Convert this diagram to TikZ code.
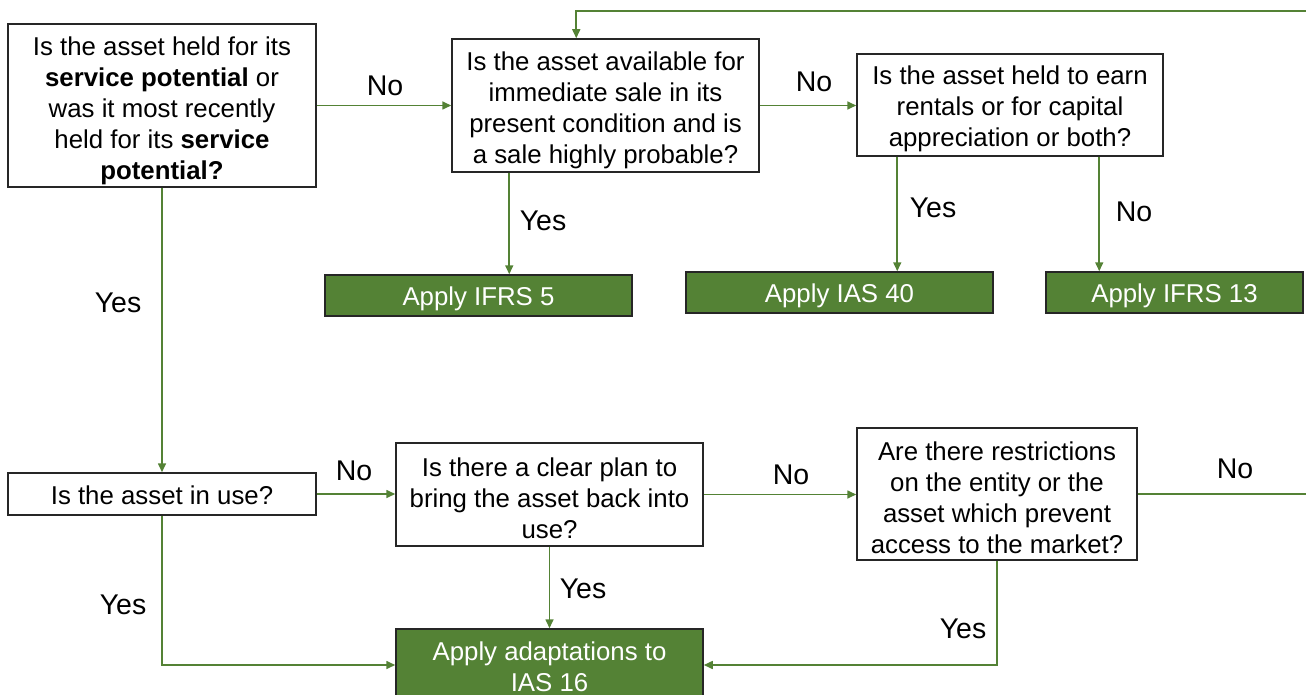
\documentclass[tikz,border=0pt]{standalone}
\usepackage{fontspec}
\setmainfont{Liberation Sans}
\usetikzlibrary{arrows.meta}
\definecolor{lgreen}{HTML}{548235}
\definecolor{bgreen}{HTML}{548235}
\definecolor{edge}{HTML}{262626}
\tikzset{
  qbox/.style={draw=edge, line width=1.5pt, fill=white, inner sep=0pt},
  gbox/.style={draw=edge, line width=1.5pt, fill=bgreen, inner sep=0pt},
  qtext/.style={inner sep=0pt, align=center, font=\fontsize{25.8}{31}\selectfont, text=black},
  gtext/.style={inner sep=0pt, align=center, font=\fontsize{25.8}{31}\selectfont, text=white},
  conn/.style={draw=lgreen, line width=1.6pt, -{Triangle[length=9pt,width=8pt]}},
  plain/.style={draw=lgreen, line width=1.6pt},
  lbl/.style={font=\fontsize{28.5}{32}\selectfont, inner sep=0pt, text=black}
}
\begin{document}
\begin{tikzpicture}[x=1pt,y=-1pt]
\useasboundingbox (0,0) rectangle (1306,695);
% question boxes
\node[qbox, minimum width=308pt, minimum height=163pt] (A) at (162,105.5) {};
\node[qbox, minimum width=307pt, minimum height=133pt] (B) at (605.5,105.5) {};
\node[qbox, minimum width=306pt, minimum height=102pt] (C) at (1010,105) {};
\node[qbox, minimum width=308pt, minimum height=42pt] (D) at (162,494) {};
\node[qbox, minimum width=307pt, minimum height=103pt] (E) at (549.5,494.5) {};
\node[qbox, minimum width=280pt, minimum height=132pt] (F) at (997,494) {};
% outcome boxes
\node[gbox, minimum width=307pt, minimum height=41pt] (G1) at (478.5,295.5) {};
\node[gbox, minimum width=307pt, minimum height=41pt] (G2) at (839.5,292.5) {};
\node[gbox, minimum width=257pt, minimum height=41pt] (G3) at (1174.5,292.5) {};
\node[gbox, minimum width=307pt, minimum height=70pt] (G4) at (549.5,664) {};
% texts
\node[qtext] (At) at ([yshift=-5pt]A.center)
  {Is the asset held for its\\ \textbf{service potential} or\\ was it most recently\\ held for its \textbf{service}\\ \textbf{potential?}};
\node[qtext] (Bt) at ([yshift=-5pt]B.center)
  {Is the asset available for\\ immediate sale in its\\ present condition and is\\ a sale highly probable?};
\node[qtext] (Ct) at ([yshift=-4pt]C.center)
  {Is the asset held to earn\\ rentals or for capital\\ appreciation or both?};
\node[qtext] (Dt) at ([yshift=-1pt]D.center) {Is the asset in use?};
\node[qtext] (Et) at ([yshift=-4pt]E.center)
  {Is there a clear plan to\\ bring the asset back into\\ use?};
\node[qtext] (Ft) at ([yshift=-4pt]F.center)
  {Are there restrictions\\ on the entity or the\\ asset which prevent\\ access to the market?};
\node[gtext] (G1t) at ([yshift=-3pt]G1.center) {Apply IFRS 5};
\node[gtext] (G2t) at ([yshift=-3pt]G2.center) {Apply IAS 40};
\node[gtext] (G3t) at ([yshift=-3pt]G3.center) {Apply IFRS 13};
\node[gtext] (G4t) at ([yshift=-3pt]G4.center) {Apply adaptations to\\ IAS 16};
% free ends
\coordinate (R1) at (1306,494);
\coordinate (R2) at (1306,11);
\coordinate (DG) at (162,665);
\coordinate (FG) at (997,665);
% connectors
\draw[conn] (A.east) -- (B.west);
\draw[conn] (B.east) -- (B.east -| C.west);
\draw[conn] ([xshift=58pt]B.south west) -- ([xshift=58pt]B.south west |- G1.north);
\draw[conn] ([xshift=41pt]C.south west) -- ([xshift=41pt]C.south west |- G2.north);
\draw[conn] ([xshift=243pt]C.south west) -- ([xshift=243pt]C.south west |- G3.north);
\draw[conn] (A.south) -- (D.north);
\draw[conn] (D.east) -- (D.east -| E.west);
\draw[conn] (E.east) -- (E.east -| F.west);
\draw[conn] (E.south) -- (G4.north);
\draw[conn] (D.south) -- (DG) -- (DG -| G4.west);
\draw[conn] (F.south) -- (FG) -- (FG -| G4.east);
\draw[plain] (F.east) -- (R1);
\draw[conn] (R2) -- ([xshift=125pt]R2 -| B.north west) -- ([xshift=125pt]B.north west);
% labels
\node[lbl] (l1) at (385,86) {No};
\node[lbl] (l2) at (814,82) {No};
\node[lbl] (l3) at (543,221) {Yes};
\node[lbl] (l4) at (933,208) {Yes};
\node[lbl] (l5) at (1134,212) {No};
\node[lbl] (l6) at (118,303) {Yes};
\node[lbl] (l7) at (354,471) {No};
\node[lbl] (l8) at (791,475) {No};
\node[lbl] (l9) at (583,589) {Yes};
\node[lbl] (l10) at (123,605) {Yes};
\node[lbl] (l11) at (963,629) {Yes};
\node[lbl] (l12) at (1235,469) {No};
\end{tikzpicture}
\end{document}
